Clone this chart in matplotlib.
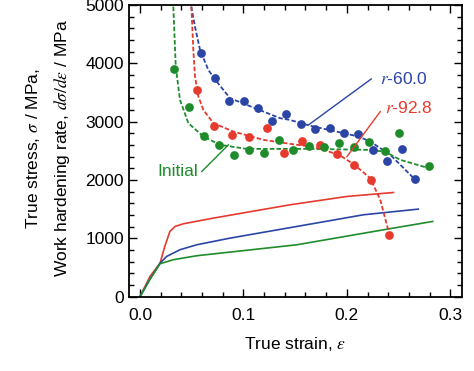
import matplotlib
matplotlib.use("Agg")
import matplotlib.pyplot as plt
from matplotlib.ticker import MultipleLocator

plt.rcParams["font.family"] = ["Liberation Sans", "DejaVu Sans"]
plt.rcParams["mathtext.fontset"] = "stix"

# colours
blue = "#2b45a6"
red = "#e63a2e"
green = "#1f8c2c"

# ----- true stress-strain curves (solid) -----
red_ss_x = [0.0, 0.0097, 0.0194, 0.024, 0.029, 0.034, 0.042, 0.071, 0.145, 0.2, 0.245]
red_ss_y = [0, 348, 574, 861, 1120, 1204, 1250, 1347, 1575, 1718, 1786]

blue_ss_x = [0.0, 0.0097, 0.0194, 0.0258, 0.0387, 0.0549, 0.0871, 0.1517, 0.216, 0.269]
blue_ss_y = [0, 300, 574, 690, 805, 890, 1004, 1204, 1404, 1501]

green_ss_x = [0.0, 0.0097, 0.0194, 0.0323, 0.0549, 0.1517, 0.2355, 0.283]
green_ss_y = [0, 300, 565, 634, 702, 890, 1147, 1290]

# ----- work hardening rate, measured points -----
blue_wh_x = [0.0587, 0.0729, 0.0865, 0.1004, 0.114, 0.128, 0.141, 0.156, 0.1694,
             0.184, 0.197, 0.211, 0.225, 0.2388, 0.2533, 0.266]
blue_wh_y = [4183, 3755, 3361, 3356, 3242, 3014, 3128, 2957, 2882,
             2900, 2803, 2786, 2517, 2329, 2539, 2020]

red_wh_x = [0.0549, 0.0719, 0.0887, 0.1055, 0.1226, 0.1397, 0.157, 0.1736,
            0.190, 0.207, 0.2236, 0.2404]
red_wh_y = [3545, 2928, 2774, 2745, 2888, 2471, 2676, 2597,
            2443, 2260, 2003, 1062]

green_wh_x = [0.0332, 0.0471, 0.062, 0.0762, 0.091, 0.1052, 0.1197, 0.134, 0.1484,
              0.163, 0.1775, 0.192, 0.2065, 0.2217, 0.2365, 0.250, 0.279]
green_wh_y = [3904, 3248, 2762, 2603, 2437, 2517, 2460, 2688, 2517,
              2591, 2568, 2631, 2574, 2660, 2505, 2803, 2248]

# ----- work hardening rate, fitted curves (dashed) -----
blue_fit_x = [0.0484, 0.0532, 0.0581, 0.0661, 0.0742, 0.0871, 0.1033, 0.1194, 0.1355,
              0.145, 0.1646, 0.1968, 0.2113, 0.2226, 0.242, 0.2662]
blue_fit_y = [5086, 4629, 4229, 3887, 3687, 3402, 3288, 3173, 3060,
              3030, 2930, 2803, 2745, 2660, 2432, 2003]

red_fit_x = [0.0494, 0.0516, 0.0532, 0.0565, 0.0613, 0.071, 0.0903, 0.1194, 0.145,
             0.1646, 0.1775, 0.1936, 0.2074, 0.2226, 0.2323, 0.2404]
red_fit_y = [5086, 4229, 3773, 3430, 3202, 2974, 2831, 2688, 2620,
             2574, 2520, 2420, 2260, 2032, 1661, 1118]

green_fit_x = [0.032, 0.0346, 0.0387, 0.0468, 0.0613, 0.0774, 0.103, 0.1646,
               0.2195, 0.2365, 0.2517, 0.279]
green_fit_y = [5086, 3944, 3373, 2974, 2745, 2603, 2534, 2534,
               2517, 2488, 2346, 2203]

fig = plt.figure(figsize=(4.74, 3.71), dpi=100)
ax = fig.add_axes([0.273, 0.2003, 0.701, 0.7862])

ax.plot(red_ss_x, red_ss_y, color=red, lw=1.2)
ax.plot(blue_ss_x, blue_ss_y, color=blue, lw=1.2)
ax.plot(green_ss_x, green_ss_y, color=green, lw=1.2)

dash = (0, (2.5, 1.2))
ax.plot(blue_fit_x, blue_fit_y, color=blue, lw=1.3, ls=dash)
ax.plot(red_fit_x, red_fit_y, color=red, lw=1.3, ls=dash)
ax.plot(green_fit_x, green_fit_y, color=green, lw=1.3, ls=dash)

ax.plot(blue_wh_x, blue_wh_y, "o", color=blue, ms=6.3, mec="none")
ax.plot(red_wh_x, red_wh_y, "o", color=red, ms=6.3, mec="none")
ax.plot(green_wh_x, green_wh_y, "o", color=green, ms=6.3, mec="none")

# labels with leader lines
ax.plot([0.0597, 0.0855], [2145, 2603], color=green, lw=1)
ax.text(0.0165, 2150, "Initial", color=green, fontsize=12.5, va="center", ha="left")
ax.plot([0.2236, 0.163], [3733, 2945], color=blue, lw=1)
ax.text(0.232, 3733, "$\\it{r}$-60.0", color=blue, fontsize=12.5, va="center", ha="left")
ax.plot([0.2323, 0.2001], [3173, 2402], color=red, lw=1)
ax.text(0.237, 3242, "$\\it{r}$-92.8", color=red, fontsize=12.5, va="center", ha="left")

ax.set_xlim(-0.0102, 0.311)
ax.set_ylim(0, 5000)
ax.xaxis.set_major_locator(MultipleLocator(0.1))
ax.xaxis.set_minor_locator(MultipleLocator(0.02))
ax.yaxis.set_major_locator(MultipleLocator(1000))
ax.yaxis.set_minor_locator(MultipleLocator(200))
ax.set_xticks([0, 0.1, 0.2, 0.3])
ax.set_xticklabels(["0.0", "0.1", "0.2", "0.3"])
ax.tick_params(which="both", direction="in", top=True, right=True, width=1, labelsize=12.5)
ax.tick_params(which="major", length=6)
ax.tick_params(which="minor", length=3.5)
ax.tick_params(axis="x", pad=8)
ax.tick_params(axis="y", pad=4)
for s in ax.spines.values():
    s.set_linewidth(1.3)

ax.set_xlabel("True strain, $\\varepsilon$", fontsize=12.5, labelpad=9)
fig.text(33 / 474, 0.6, "True stress, $\\sigma$ / MPa,", rotation=90,
         fontsize=12.5, ha="center", va="center")
fig.text(62 / 474, 0.6, "Work hardening rate, $d\\sigma/d\\varepsilon$ / MPa", rotation=90,
         fontsize=12.5, ha="center", va="center")

fig.savefig("out.png", dpi=100)
